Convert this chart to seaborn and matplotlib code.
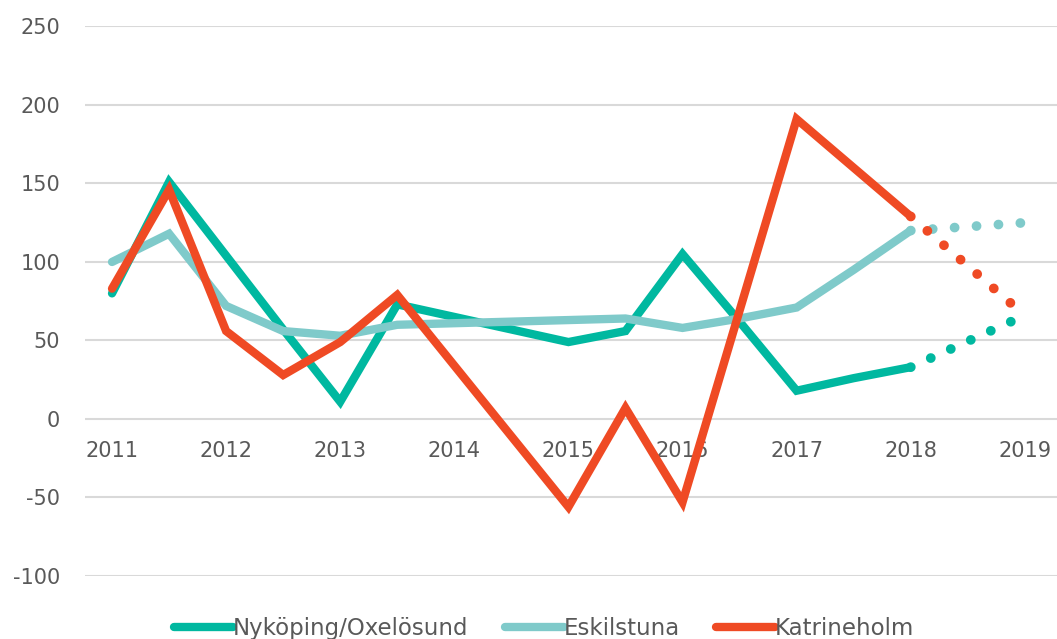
import numpy as np
import pandas as pd

import matplotlib.pyplot as plt
import seaborn as sns

# half-year steps, solid part
years = [2011, 2011.5, 2012, 2012.5, 2013, 2013.5, 2014, 2014.5,
         2015, 2015.5, 2016, 2016.5, 2017, 2017.5, 2018]
nykoping = [80, 151, 104, 57, 11, 73, 65, 57, 49, 56, 105, 62, 18, 26, 33]
eskilstuna = [100, 118, 72, 56, 53, 60, 61, 62, 63, 64, 58, 64, 71, 95, 120]
katrineholm = [83, 146, 56, 28, 49, 79, 34, -11, -56, 7, -53, 69, 191, 160, 129]

# dotted part (forecast)
fc_years = [2018, 2019]
fc_nykoping = [33, 66]
fc_eskilstuna = [120, 125]
fc_katrineholm = [129, 66]

series_names = ['Nyköping/Oxelösund', 'Eskilstuna', 'Katrineholm']
colors = ['#00B8A0', '#7FCACA', '#EF4A24']
year_ticks = [2011, 2012, 2013, 2014, 2015, 2016, 2017, 2018, 2019]
y_ticks = [-100, -50, 0, 50, 100, 150, 200, 250]

sns.set_style('white')
plt.rcParams['font.family'] = ['DejaVu Sans']
plt.rcParams['axes.unicode_minus'] = False
text_gray = '#595959'

fig = plt.figure(figsize=(10.57, 6.39), dpi=100)
ax = fig.add_axes([0.0804, 0.0986, 0.9196, 0.86])

solid = [nykoping, eskilstuna, katrineholm]
dotted = [fc_nykoping, fc_eskilstuna, fc_katrineholm]

for name, vals, fc_vals, col in zip(series_names, solid, dotted, colors):
    df = pd.DataFrame({'year': years, 'value': vals})
    sns.lineplot(data=df, x='year', y='value', ax=ax, color=col, lw=6,
                 solid_capstyle='round', solid_joinstyle='miter', label=name)
    fc = pd.DataFrame({'year': fc_years, 'value': fc_vals})
    sns.lineplot(data=fc, x='year', y='value', ax=ax, color=col, lw=7,
                 linestyle=(0, (0.01, 2.25)), dash_capstyle='round', legend=False)

ax.set_xlim(2010.763, 2019.282)
ax.set_ylim(-100, 250)
ax.set_yticks(y_ticks)
ax.set_xticks(year_ticks)
ax.set_xticklabels([str(y) for y in year_ticks])
ax.yaxis.grid(True, color='#D9D9D9', lw=1.5)
ax.set_axisbelow(True)
for s in ax.spines.values():
    s.set_visible(False)
ax.spines['bottom'].set_position(('data', 0))
ax.tick_params(axis='both', length=0, labelsize=15, labelcolor=text_gray)
ax.tick_params(axis='x', pad=16)
ax.tick_params(axis='y', pad=18)
ax.set_xlabel('')
ax.set_ylabel('')

handles, labels = ax.get_legend_handles_labels()
ax.get_legend().remove()
leg = fig.legend(handles, labels, loc='center', bbox_to_anchor=(0.515, 0.017),
                 ncol=3, frameon=False, fontsize=16.5, handlelength=2.55,
                 handletextpad=0.0, columnspacing=1.6)
for t in leg.get_texts():
    t.set_color(text_gray)
for h in leg.get_lines():
    h.set_linewidth(6)
    h.set_solid_capstyle('round')

plt.savefig('out.png', dpi=100)
